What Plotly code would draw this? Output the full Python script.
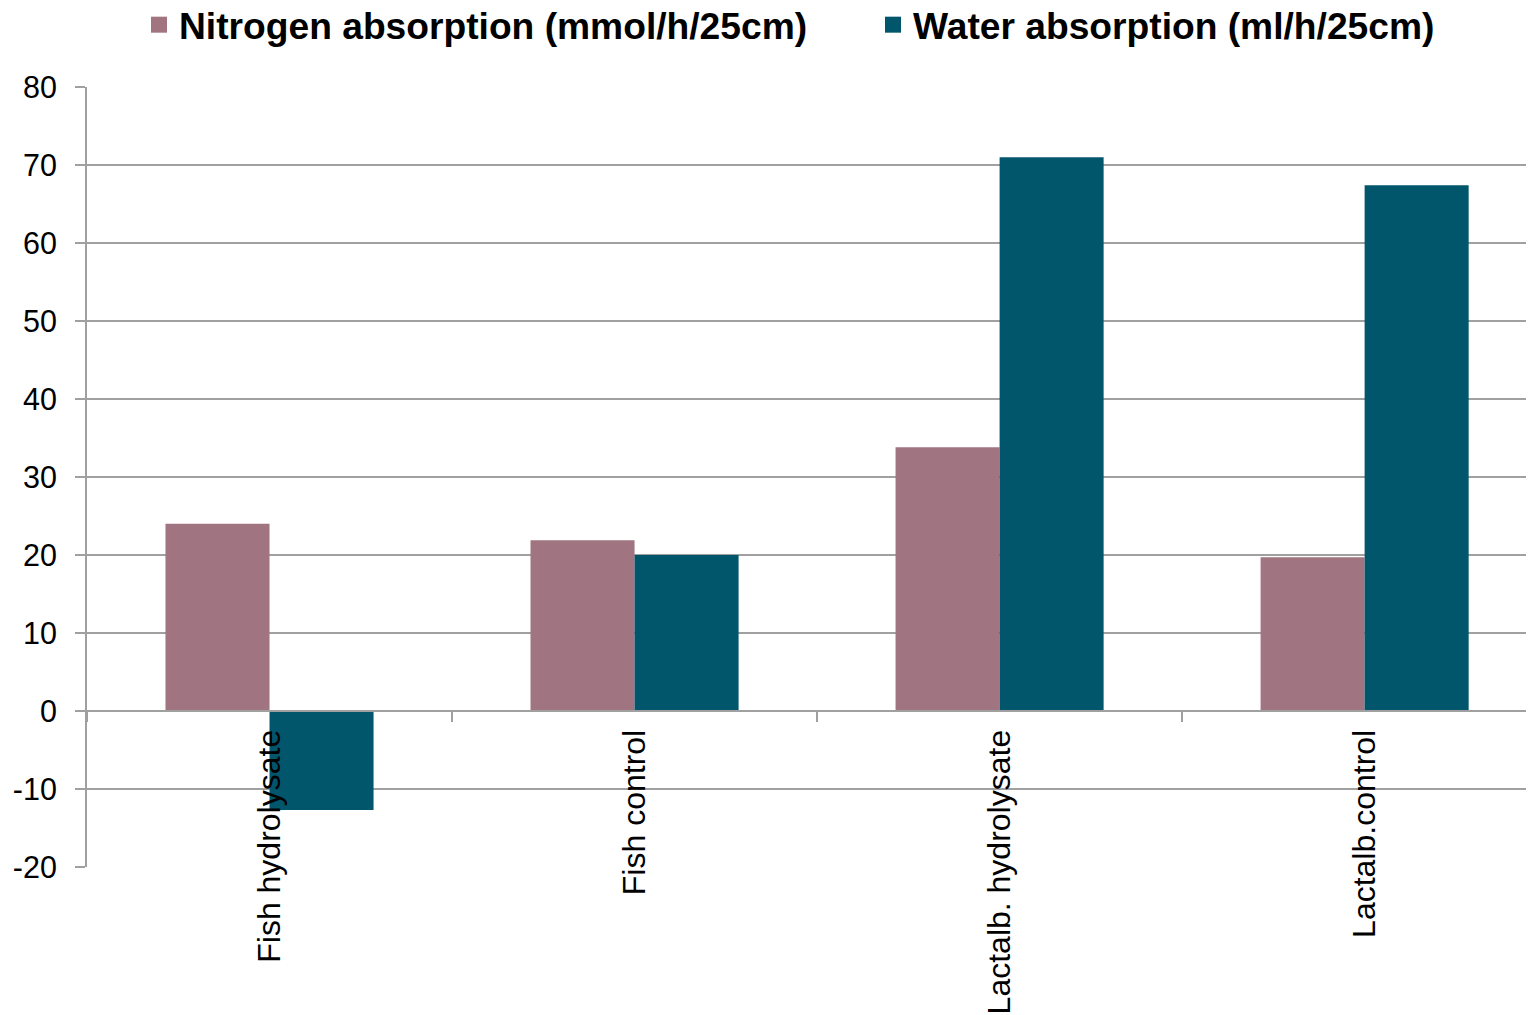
import plotly.graph_objects as go

categories = ["Fish hydrolysate", "Fish control", "Lactalb. hydrolysate", "Lactalb.control"]
nitrogen = [24.0, 21.9, 33.8, 19.7]
water = [-12.7, 20.0, 71.0, 67.4]
y_ticks = [-20, -10, 0, 10, 20, 30, 40, 50, 60, 70, 80]
y_tick_text = ["-20", "-10", "0", "10", "20", "30", "40", "50", "60", "70", "80"]

NAME_N = "Nitrogen absorption (mmol/h/25cm)"
NAME_W = "Water absorption (ml/h/25cm)"
C_N = "#A07480"
C_W = "#02566B"
FONT = "Liberation Sans, Arial, sans-serif"

fig = go.Figure()
fig.add_trace(go.Bar(x=categories, y=nitrogen, name=NAME_N, marker_color=C_N,
                     marker_line_width=0, showlegend=False))
fig.add_trace(go.Bar(x=categories, y=water, name=NAME_W, marker_color=C_W,
                     marker_line_width=0, showlegend=False))
# legend entries
fig.add_trace(go.Scatter(x=[None], y=[None], mode="markers", name=NAME_N,
                         marker=dict(symbol="square", size=16, color=C_N), legend="legend"))
fig.add_trace(go.Scatter(x=[None], y=[None], mode="markers", name=NAME_W,
                         marker=dict(symbol="square", size=16, color=C_W), legend="legend2"))

legend_style = dict(font=dict(family=FONT, size=37.2, color="black", weight="bold"),
                    bgcolor="rgba(0,0,0,0)", borderwidth=0, yanchor="middle",
                    xanchor="left", itemsizing="trace")
fig.update_layout(
    width=1526, height=1007,
    margin=dict(l=79, r=0, t=79, b=148, autoexpand=False),
    plot_bgcolor="white", paper_bgcolor="white",
    barmode="group", bargap=0.43, bargroupgap=0,
    legend=dict(x=(139 - 87) / 1447, y=1 + 62 / 780, **legend_style),
    legend2=dict(x=(873 - 87) / 1447, y=1 + 62 / 780, **legend_style),
    xaxis=dict(anchor="free", position=0.2, range=[-0.5, 3.464],
               showline=True, linecolor="#A0A0A0",
               linewidth=2, ticks="outside", tickson="boundaries", ticklen=10,
               tickcolor="#A0A0A0", tickwidth=2, tickangle=-90, showgrid=False,
               automargin=False,
               tickfont=dict(family=FONT, size=32, color="black"),
               ticklabelstandoff=5),
    yaxis=dict(range=[-20, 80], tickvals=y_ticks, ticktext=y_tick_text,
               showgrid=True, gridcolor="#A0A0A0", automargin=False,
               gridwidth=2, showline=True, linecolor="#A0A0A0", linewidth=2,
               ticks="outside", ticklen=10, tickcolor="#A0A0A0", tickwidth=2,
               zeroline=False, tickfont=dict(family=FONT, size=30.5, color="black"),
               ticklabelstandoff=12),
)
fig.write_html("out.html")
